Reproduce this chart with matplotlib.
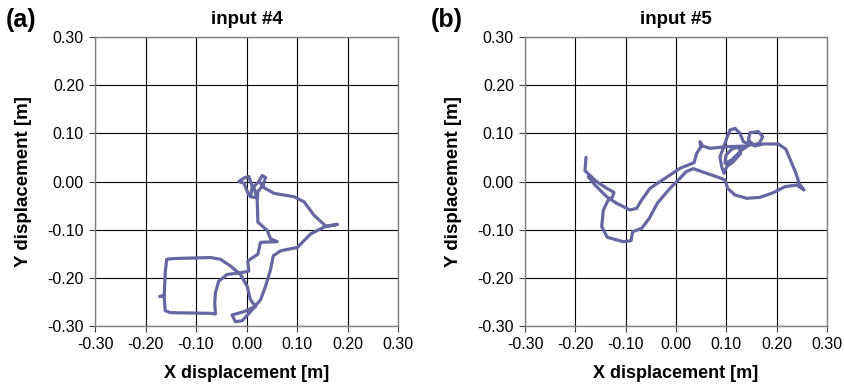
import matplotlib
matplotlib.use("Agg")
import matplotlib.pyplot as plt
import numpy as np

# trajectory for input #4 (metres)
x4 = [0.0046, -0.0053, -0.0152, -0.0053, 0.0046, 0.0113, 0.0079, 0.0199, 0.0146, 0.0245,
      0.0311, 0.0377, 0.0331, 0.0225, 0.0212, 0.0225, 0.0411, 0.0477, 0.0609, 0.0278,
      0.0225, 0.0026, 0.0046, -0.0119, -0.0384, -0.0550, -0.0616, -0.0629, -0.0616, -0.0715,
      -0.1510, -0.1610, -0.1630, -0.1720, -0.1630, -0.1610, -0.1580, -0.1457, -0.0715, -0.0517,
      -0.0318, -0.0119, 0.0013, 0.0079, 0.0179, -0.0053, -0.0285, -0.0219, -0.0086, 0.0079,
      0.0278, 0.0377, 0.0477, 0.0530, 0.0675, 0.1007, 0.1172, 0.1272, 0.1536, 0.1801,
      0.1570, 0.1338, 0.1139, 0.0940, 0.0543, 0.0344, 0.0278]
y4 = [-0.0281, -0.0035, 0.0000, 0.0070, 0.0105, -0.0105, -0.0316, -0.0337, -0.0105, 0.0000,
      0.0126, 0.0084, -0.0070, -0.0211, -0.0386, -0.0842, -0.1018, -0.1193, -0.1249, -0.1263,
      -0.1509, -0.1649, -0.1860, -0.1895, -0.1930, -0.2070, -0.2316, -0.2526, -0.2751, -0.2737,
      -0.2723, -0.2681, -0.2386, -0.2386, -0.2372, -0.1895, -0.1614, -0.1600, -0.1579, -0.1614,
      -0.1754, -0.1930, -0.2175, -0.2456, -0.2596, -0.2702, -0.2772, -0.2912, -0.2891, -0.2702,
      -0.2456, -0.2175, -0.1825, -0.1544, -0.1439, -0.1368, -0.1193, -0.1088, -0.0947, -0.0891,
      -0.0926, -0.0702, -0.0421, -0.0316, -0.0246, -0.0126, -0.0035]

# trajectory for input #5 (metres)
x5 = [-0.1788, -0.1808, -0.1576, -0.1377, -0.1232, -0.1258, -0.1345, -0.1444, -0.1476, -0.1365,
      -0.1047, -0.0894, -0.0860, -0.0682, -0.0530, -0.0372, -0.0119, 0.0079, 0.0199, 0.0344,
      0.0609, 0.0841, 0.0974, 0.1026, 0.1172, 0.1404, 0.1669, 0.1934, 0.2166, 0.2397,
      0.2543, 0.2450, 0.2384, 0.2278, 0.2185, 0.2033, 0.1735, 0.1570, 0.1437, 0.1470,
      0.1636, 0.1722, 0.1656, 0.1503, 0.1338, 0.1272, 0.1172, 0.1073, 0.1007, 0.0940,
      0.0874, 0.0907, 0.0954, 0.1007, 0.1139, 0.1285, 0.1258, 0.1126, 0.0993, 0.0974,
      0.1106, 0.1305, 0.1503, 0.1404, 0.1007, 0.0675, 0.0530, 0.0477, 0.0490, 0.0411,
      0.0358, 0.0159, 0.0079, -0.0119, -0.0517, -0.0682, -0.0781, -0.0914, -0.1178, -0.1377,
      -0.1609, -0.1743]
y5 = [0.0502, 0.0224, -0.0004, -0.0141, -0.0224, -0.0316, -0.0384, -0.0592, -0.0938, -0.1158,
      -0.1250, -0.1229, -0.1042, -0.0972, -0.0764, -0.0453, -0.0141, 0.0066, 0.0204, 0.0266,
      0.0170, 0.0087, 0.0031, -0.0142, -0.0280, -0.0349, -0.0329, -0.0232, -0.0107, -0.0073,
      -0.0176, -0.0052, 0.0170, 0.0433, 0.0668, 0.0779, 0.0779, 0.0737, 0.0862, 0.1014,
      0.1035, 0.0931, 0.0792, 0.0758, 0.0827, 0.1000, 0.1104, 0.1069, 0.0896, 0.0689,
      0.0516, 0.0308, 0.0170, 0.0308, 0.0412, 0.0585, 0.0709, 0.0689, 0.0550, 0.0377,
      0.0446, 0.0654, 0.0792, 0.0737, 0.0723, 0.0689, 0.0737, 0.0827, 0.0709, 0.0585,
      0.0391, 0.0308, 0.0274, 0.0135, -0.0141, -0.0384, -0.0556, -0.0592, -0.0453, -0.0316,
      -0.0073, 0.0100]

ticks = [-0.3, -0.2, -0.1, 0.0, 0.1, 0.2, 0.3]
tick_labels = ["%.2f" % t for t in ticks]

plt.rcParams['font.family'] = ['Liberation Sans', 'DejaVu Sans']

fig = plt.figure(figsize=(8.44, 3.90), dpi=100)

panels = [
    (x4, y4, "input #4", "(a)", [95/844, 64/390, 303/844, 289/390], 6/844),
    (x5, y5, "input #5", "(b)", [525/844, 64/390, 302/844, 289/390], 431/844),
]

for xs, ys, title, letter, rect, lx in panels:
    ax = fig.add_axes(rect)
    ax.plot(xs, ys, color='#6666a2', lw=2.3, solid_joinstyle='round', solid_capstyle='round')
    ax.set_xlim(-0.3, 0.3)
    ax.set_ylim(-0.3, 0.3)
    ax.set_xticks(ticks)
    ax.set_yticks(ticks)
    ax.set_xticklabels(tick_labels, fontsize=11.5)
    ax.set_yticklabels(tick_labels, fontsize=11.5)
    ax.grid(True, color='black', lw=0.8)
    ax.set_axisbelow(True)
    for s in ax.spines.values():
        s.set_color('#808080')
        s.set_linewidth(1.0)
    ax.tick_params(direction='out', length=4, width=0.8, color='#404040', pad=4)
    ax.set_xlabel("X displacement [m]", fontsize=13, fontweight='bold', labelpad=9)
    ax.set_ylabel("Y displacement [m]", fontsize=13.5, fontweight='bold', labelpad=11)
    ax.set_title(title, fontsize=13.5, fontweight='bold', pad=9)
    fig.text(lx, 1 - 20/390, letter, fontsize=18, fontweight='bold',
             va='center', ha='left')

fig.savefig("out.png", dpi=100)
